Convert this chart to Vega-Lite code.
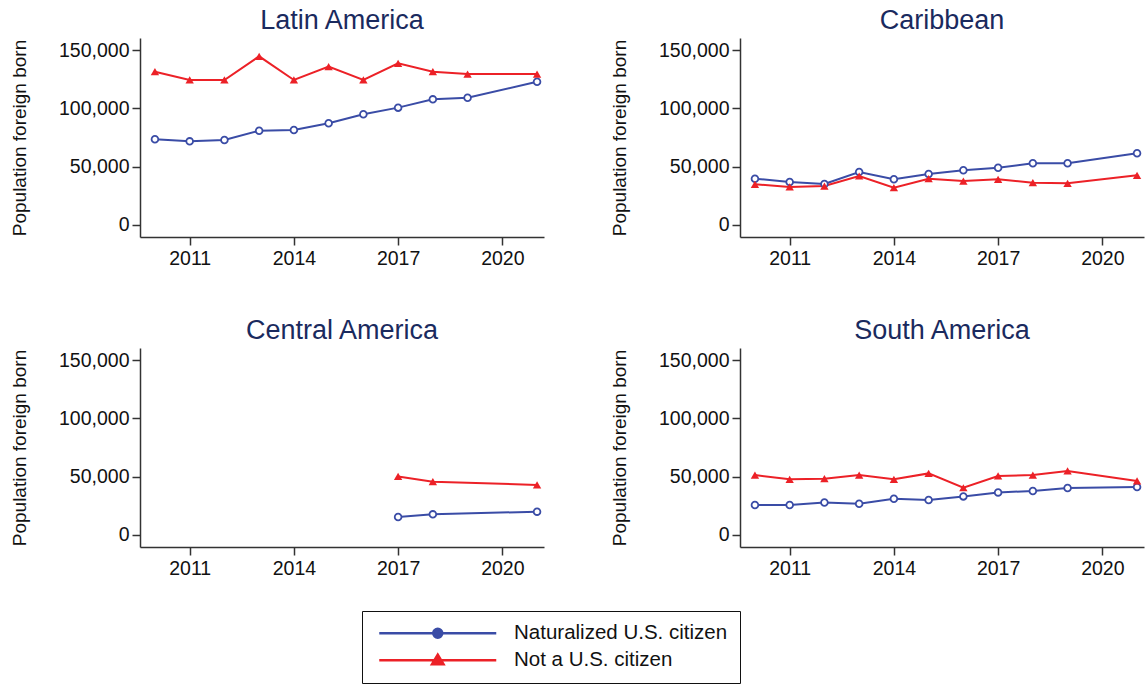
{
  "$schema": "https://vega.github.io/schema/vega-lite/v6.json",
  "padding": {"left": 10, "top": 7, "right": 0, "bottom": 0},
  "background": "white",
  "datasets": {
    "d": [
      {"region": "Latin America", "status": "Naturalized U.S. citizen", "year": 2010, "value": 73500},
      {"region": "Latin America", "status": "Naturalized U.S. citizen", "year": 2011, "value": 71700},
      {"region": "Latin America", "status": "Naturalized U.S. citizen", "year": 2012, "value": 72900},
      {"region": "Latin America", "status": "Naturalized U.S. citizen", "year": 2013, "value": 80800},
      {"region": "Latin America", "status": "Naturalized U.S. citizen", "year": 2014, "value": 81400},
      {"region": "Latin America", "status": "Naturalized U.S. citizen", "year": 2015, "value": 87200},
      {"region": "Latin America", "status": "Naturalized U.S. citizen", "year": 2016, "value": 94900},
      {"region": "Latin America", "status": "Naturalized U.S. citizen", "year": 2017, "value": 100600},
      {"region": "Latin America", "status": "Naturalized U.S. citizen", "year": 2018, "value": 107700},
      {"region": "Latin America", "status": "Naturalized U.S. citizen", "year": 2019, "value": 109100},
      {"region": "Latin America", "status": "Naturalized U.S. citizen", "year": 2021, "value": 122800},
      {"region": "Latin America", "status": "Not a U.S. citizen", "year": 2010, "value": 131400},
      {"region": "Latin America", "status": "Not a U.S. citizen", "year": 2011, "value": 124300},
      {"region": "Latin America", "status": "Not a U.S. citizen", "year": 2012, "value": 124300},
      {"region": "Latin America", "status": "Not a U.S. citizen", "year": 2013, "value": 144600},
      {"region": "Latin America", "status": "Not a U.S. citizen", "year": 2014, "value": 124300},
      {"region": "Latin America", "status": "Not a U.S. citizen", "year": 2015, "value": 135700},
      {"region": "Latin America", "status": "Not a U.S. citizen", "year": 2016, "value": 124300},
      {"region": "Latin America", "status": "Not a U.S. citizen", "year": 2017, "value": 138600},
      {"region": "Latin America", "status": "Not a U.S. citizen", "year": 2018, "value": 131400},
      {"region": "Latin America", "status": "Not a U.S. citizen", "year": 2019, "value": 129400},
      {"region": "Latin America", "status": "Not a U.S. citizen", "year": 2021, "value": 129400},
      {"region": "Caribbean", "status": "Naturalized U.S. citizen", "year": 2010, "value": 39700},
      {"region": "Caribbean", "status": "Naturalized U.S. citizen", "year": 2011, "value": 36900},
      {"region": "Caribbean", "status": "Naturalized U.S. citizen", "year": 2012, "value": 35100},
      {"region": "Caribbean", "status": "Naturalized U.S. citizen", "year": 2013, "value": 45400},
      {"region": "Caribbean", "status": "Naturalized U.S. citizen", "year": 2014, "value": 39200},
      {"region": "Caribbean", "status": "Naturalized U.S. citizen", "year": 2015, "value": 43700},
      {"region": "Caribbean", "status": "Naturalized U.S. citizen", "year": 2016, "value": 46900},
      {"region": "Caribbean", "status": "Naturalized U.S. citizen", "year": 2017, "value": 49100},
      {"region": "Caribbean", "status": "Naturalized U.S. citizen", "year": 2018, "value": 52900},
      {"region": "Caribbean", "status": "Naturalized U.S. citizen", "year": 2019, "value": 52900},
      {"region": "Caribbean", "status": "Naturalized U.S. citizen", "year": 2021, "value": 61500},
      {"region": "Caribbean", "status": "Not a U.S. citizen", "year": 2010, "value": 34900},
      {"region": "Caribbean", "status": "Not a U.S. citizen", "year": 2011, "value": 32600},
      {"region": "Caribbean", "status": "Not a U.S. citizen", "year": 2012, "value": 33400},
      {"region": "Caribbean", "status": "Not a U.S. citizen", "year": 2013, "value": 42000},
      {"region": "Caribbean", "status": "Not a U.S. citizen", "year": 2014, "value": 32000},
      {"region": "Caribbean", "status": "Not a U.S. citizen", "year": 2015, "value": 39700},
      {"region": "Caribbean", "status": "Not a U.S. citizen", "year": 2016, "value": 37700},
      {"region": "Caribbean", "status": "Not a U.S. citizen", "year": 2017, "value": 39200},
      {"region": "Caribbean", "status": "Not a U.S. citizen", "year": 2018, "value": 36300},
      {"region": "Caribbean", "status": "Not a U.S. citizen", "year": 2019, "value": 35700},
      {"region": "Caribbean", "status": "Not a U.S. citizen", "year": 2021, "value": 42600},
      {"region": "Central America", "status": "Naturalized U.S. citizen", "year": 2017, "value": 15400},
      {"region": "Central America", "status": "Naturalized U.S. citizen", "year": 2018, "value": 17700},
      {"region": "Central America", "status": "Naturalized U.S. citizen", "year": 2021, "value": 20000},
      {"region": "Central America", "status": "Not a U.S. citizen", "year": 2017, "value": 50200},
      {"region": "Central America", "status": "Not a U.S. citizen", "year": 2018, "value": 45700},
      {"region": "Central America", "status": "Not a U.S. citizen", "year": 2021, "value": 42900},
      {"region": "South America", "status": "Naturalized U.S. citizen", "year": 2010, "value": 25700},
      {"region": "South America", "status": "Naturalized U.S. citizen", "year": 2011, "value": 25700},
      {"region": "South America", "status": "Naturalized U.S. citizen", "year": 2012, "value": 27900},
      {"region": "South America", "status": "Naturalized U.S. citizen", "year": 2013, "value": 26800},
      {"region": "South America", "status": "Naturalized U.S. citizen", "year": 2014, "value": 31100},
      {"region": "South America", "status": "Naturalized U.S. citizen", "year": 2015, "value": 30000},
      {"region": "South America", "status": "Naturalized U.S. citizen", "year": 2016, "value": 33100},
      {"region": "South America", "status": "Naturalized U.S. citizen", "year": 2017, "value": 36500},
      {"region": "South America", "status": "Naturalized U.S. citizen", "year": 2018, "value": 37700},
      {"region": "South America", "status": "Naturalized U.S. citizen", "year": 2019, "value": 40300},
      {"region": "South America", "status": "Naturalized U.S. citizen", "year": 2021, "value": 41100},
      {"region": "South America", "status": "Not a U.S. citizen", "year": 2010, "value": 51400},
      {"region": "South America", "status": "Not a U.S. citizen", "year": 2011, "value": 47700},
      {"region": "South America", "status": "Not a U.S. citizen", "year": 2012, "value": 48300},
      {"region": "South America", "status": "Not a U.S. citizen", "year": 2013, "value": 51400},
      {"region": "South America", "status": "Not a U.S. citizen", "year": 2014, "value": 47700},
      {"region": "South America", "status": "Not a U.S. citizen", "year": 2015, "value": 52800},
      {"region": "South America", "status": "Not a U.S. citizen", "year": 2016, "value": 40500},
      {"region": "South America", "status": "Not a U.S. citizen", "year": 2017, "value": 50600},
      {"region": "South America", "status": "Not a U.S. citizen", "year": 2018, "value": 51400},
      {"region": "South America", "status": "Not a U.S. citizen", "year": 2019, "value": 54900},
      {"region": "South America", "status": "Not a U.S. citizen", "year": 2021, "value": 46300}
    ]
  },
  "data": {"name": "d"},
  "columns": 2,
  "bounds": "flush",
  "spacing": {"row": 111, "column": 196},
  "concat": [
    {
      "title": "Latin America",
      "width": 404, "height": 199,
      "transform": [{"filter": "datum.region == 'Latin America'"}],
      "encoding": {
        "x": {"field": "year", "type": "quantitative", "scale": {"domain": [2009.57, 2021.2], "nice": false, "zero": false},
              "axis": {"values": [2011, 2014, 2017, 2020], "format": "d", "title": null, "grid": false, "labelFontSize": 19.5, "labelColor": "#111", "tickSize": 8, "tickColor": "#333", "domainColor": "#333", "domainWidth": 1.5, "tickWidth": 1.5, "labelPadding": 4, "labelFlush": false}},
        "y": {"field": "value", "type": "quantitative", "scale": {"domain": [-10286, 160286], "nice": false, "zero": false},
              "axis": {"values": [0, 50000, 100000, 150000], "format": ",.0f", "title": "Population foreign born", "grid": false, "labelFontSize": 19.5, "labelColor": "#111", "titleFontSize": 19, "titleFontWeight": "normal", "titleColor": "#111", "titlePadding": 29, "tickSize": 8, "tickColor": "#333", "domainColor": "#333", "domainWidth": 1.5, "tickWidth": 1.5, "labelPadding": 3}},
        "color": {"field": "status", "type": "nominal", "scale": {"domain": ["Naturalized U.S. citizen", "Not a U.S. citizen"], "range": ["#3a4ca6", "#ec2127"]}}
      },
      "layer": [
        {"mark": {"type": "line", "strokeWidth": 2}},
        {"transform": [{"filter": "datum.status == 'Naturalized U.S. citizen'"}], "mark": {"type": "point", "shape": "circle", "filled": false, "fill": "white", "strokeWidth": 1.8, "opacity": 1, "size": 45}},
        {"transform": [{"filter": "datum.status == 'Not a U.S. citizen'"}], "mark": {"type": "point", "shape": "triangle-up", "filled": true, "opacity": 1, "size": 70}},
        {"transform": [{"filter": "datum.year < 0"}], "mark": {"type": "point", "filled": false, "strokeWidth": 2.5, "opacity": 1},
          "encoding": {
            "color": {"field": "status", "type": "nominal",
              "legend": {"orient": "none", "legendX": 222, "legendY": 573, "title": null, "direction": "vertical",
                "strokeColor": "#111", "fillColor": "white", "padding": 12,
                "labelFontSize": 20.5, "labelColor": "#111", "labelOffset": 66, "labelLimit": 400,
                "symbolSize": 100, "symbolOffset": 53.5, "symbolStrokeWidth": 2.5, "rowPadding": 5, "symbolOpacity": 1,
                "encode": {"legend": {"update": {"strokeWidth": {"value": 1.5}}}}}},
            "shape": {"field": "status", "type": "nominal",
              "scale": {"domain": ["Naturalized U.S. citizen", "Not a U.S. citizen"],
                "range": ["M-11.7,0H-0.9M0.9,0H11.7M0.9,0A0.9,0.9,0,1,1,-0.9,0A0.9,0.9,0,1,1,0.9,0Z", "M-11.7,0H11.7M-1.15,0.8L1.15,0.8L0,-1.1ZM-0.6,0.5L0.6,0.5L0,-0.5Z"]},
              "legend": {"orient": "none", "legendX": 222, "legendY": 573, "title": null, "direction": "vertical",
                "strokeColor": "#111", "fillColor": "white", "padding": 12,
                "labelFontSize": 20.5, "labelColor": "#111", "labelOffset": 66, "labelLimit": 400,
                "symbolSize": 100, "symbolOffset": 53.5, "symbolStrokeWidth": 2.5, "rowPadding": 5, "symbolOpacity": 1,
                "encode": {"legend": {"update": {"strokeWidth": {"value": 1.5}}}}}}
          }}
      ]
    },
    {
      "title": "Caribbean",
      "width": 404, "height": 199,
      "transform": [{"filter": "datum.region == 'Caribbean'"}],
      "encoding": {
        "x": {"field": "year", "type": "quantitative", "scale": {"domain": [2009.57, 2021.2], "nice": false, "zero": false},
              "axis": {"values": [2011, 2014, 2017, 2020], "format": "d", "title": null, "grid": false, "labelFontSize": 19.5, "labelColor": "#111", "tickSize": 8, "tickColor": "#333", "domainColor": "#333", "domainWidth": 1.5, "tickWidth": 1.5, "labelPadding": 4, "labelFlush": false}},
        "y": {"field": "value", "type": "quantitative", "scale": {"domain": [-10286, 160286], "nice": false, "zero": false},
              "axis": {"values": [0, 50000, 100000, 150000], "format": ",.0f", "title": "Population foreign born", "grid": false, "labelFontSize": 19.5, "labelColor": "#111", "titleFontSize": 19, "titleFontWeight": "normal", "titleColor": "#111", "titlePadding": 29, "tickSize": 8, "tickColor": "#333", "domainColor": "#333", "domainWidth": 1.5, "tickWidth": 1.5, "labelPadding": 3}},
        "color": {"field": "status", "type": "nominal"}
      },
      "layer": [
        {"mark": {"type": "line", "strokeWidth": 2}},
        {"transform": [{"filter": "datum.status == 'Naturalized U.S. citizen'"}], "mark": {"type": "point", "shape": "circle", "filled": false, "fill": "white", "strokeWidth": 1.8, "opacity": 1, "size": 45}},
        {"transform": [{"filter": "datum.status == 'Not a U.S. citizen'"}], "mark": {"type": "point", "shape": "triangle-up", "filled": true, "opacity": 1, "size": 70}}
      ]
    },
    {
      "title": "Central America",
      "width": 404, "height": 199,
      "transform": [{"filter": "datum.region == 'Central America'"}],
      "encoding": {
        "x": {"field": "year", "type": "quantitative", "scale": {"domain": [2009.57, 2021.2], "nice": false, "zero": false},
              "axis": {"values": [2011, 2014, 2017, 2020], "format": "d", "title": null, "grid": false, "labelFontSize": 19.5, "labelColor": "#111", "tickSize": 8, "tickColor": "#333", "domainColor": "#333", "domainWidth": 1.5, "tickWidth": 1.5, "labelPadding": 4, "labelFlush": false}},
        "y": {"field": "value", "type": "quantitative", "scale": {"domain": [-10286, 160286], "nice": false, "zero": false},
              "axis": {"values": [0, 50000, 100000, 150000], "format": ",.0f", "title": "Population foreign born", "grid": false, "labelFontSize": 19.5, "labelColor": "#111", "titleFontSize": 19, "titleFontWeight": "normal", "titleColor": "#111", "titlePadding": 29, "tickSize": 8, "tickColor": "#333", "domainColor": "#333", "domainWidth": 1.5, "tickWidth": 1.5, "labelPadding": 3}},
        "color": {"field": "status", "type": "nominal"}
      },
      "layer": [
        {"mark": {"type": "line", "strokeWidth": 2}},
        {"transform": [{"filter": "datum.status == 'Naturalized U.S. citizen'"}], "mark": {"type": "point", "shape": "circle", "filled": false, "fill": "white", "strokeWidth": 1.8, "opacity": 1, "size": 45}},
        {"transform": [{"filter": "datum.status == 'Not a U.S. citizen'"}], "mark": {"type": "point", "shape": "triangle-up", "filled": true, "opacity": 1, "size": 70}}
      ]
    },
    {
      "title": "South America",
      "width": 404, "height": 199,
      "transform": [{"filter": "datum.region == 'South America'"}],
      "encoding": {
        "x": {"field": "year", "type": "quantitative", "scale": {"domain": [2009.57, 2021.2], "nice": false, "zero": false},
              "axis": {"values": [2011, 2014, 2017, 2020], "format": "d", "title": null, "grid": false, "labelFontSize": 19.5, "labelColor": "#111", "tickSize": 8, "tickColor": "#333", "domainColor": "#333", "domainWidth": 1.5, "tickWidth": 1.5, "labelPadding": 4, "labelFlush": false}},
        "y": {"field": "value", "type": "quantitative", "scale": {"domain": [-10286, 160286], "nice": false, "zero": false},
              "axis": {"values": [0, 50000, 100000, 150000], "format": ",.0f", "title": "Population foreign born", "grid": false, "labelFontSize": 19.5, "labelColor": "#111", "titleFontSize": 19, "titleFontWeight": "normal", "titleColor": "#111", "titlePadding": 29, "tickSize": 8, "tickColor": "#333", "domainColor": "#333", "domainWidth": 1.5, "tickWidth": 1.5, "labelPadding": 3}},
        "color": {"field": "status", "type": "nominal"}
      },
      "layer": [
        {"mark": {"type": "line", "strokeWidth": 2}},
        {"transform": [{"filter": "datum.status == 'Naturalized U.S. citizen'"}], "mark": {"type": "point", "shape": "circle", "filled": false, "fill": "white", "strokeWidth": 1.8, "opacity": 1, "size": 45}},
        {"transform": [{"filter": "datum.status == 'Not a U.S. citizen'"}], "mark": {"type": "point", "shape": "triangle-up", "filled": true, "opacity": 1, "size": 70}}
      ]
    }
  ],
  "resolve": {"scale": {"x": "shared", "y": "shared", "color": "shared", "shape": "shared"}, "axis": {"x": "independent", "y": "independent"}},
  "config": {
    "font": "Liberation Sans",
    "view": {"stroke": null},
    "title": {"fontSize": 27, "fontWeight": "normal", "color": "#1a2a5e", "offset": 3, "font": "Liberation Sans"}
  }
}
